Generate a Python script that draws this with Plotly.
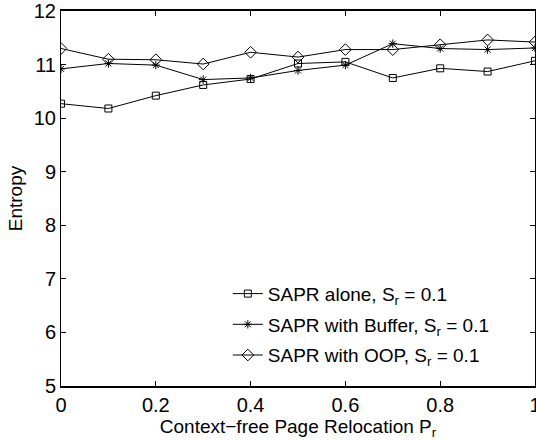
import plotly.graph_objects as go

x_vals = [0, 0.1, 0.2, 0.3, 0.4, 0.5, 0.6, 0.7, 0.8, 0.9, 1.0]
sapr_alone = [10.27, 10.18, 10.42, 10.62, 10.73, 11.02, 11.05, 10.75, 10.93, 10.87, 11.07]
sapr_buffer = [10.92, 11.02, 10.99, 10.72, 10.75, 10.89, 10.99, 11.39, 11.30, 11.28, 11.31]
sapr_oop = [11.30, 11.10, 11.09, 11.01, 11.23, 11.14, 11.28, 11.28, 11.37, 11.46, 11.42]
names = ["SAPR alone, S<sub>r</sub> = 0.1",
         "SAPR with Buffer, S<sub>r</sub> = 0.1",
         "SAPR with OOP, S<sub>r</sub> = 0.1"]
symbols = ["square-open", "asterisk-open", "diamond-open"]
sizes = [7, 7, 9]

fig = go.Figure()
for i, (ys, nm, sym, sz) in enumerate(zip([sapr_alone, sapr_buffer, sapr_oop], names, symbols, sizes)):
    fig.add_trace(go.Scatter(
        x=x_vals, y=ys, name=nm, mode="lines+markers", legendgroup=f"g{i}",
        line=dict(color="black", width=1),
        marker=dict(symbol=sym, size=sz, color="black", line=dict(color="black", width=1)),
    ))

font = "Liberation Sans, Arial, sans-serif"
fig.update_layout(
    width=536, height=440,
    margin=dict(l=61, r=1, t=11, b=54),
    paper_bgcolor="white", plot_bgcolor="white",
    font=dict(family=font, size=20, color="black"),
    showlegend=True,
    legend=dict(x=0.352, y=0.03, xanchor="left", yanchor="bottom",
                bgcolor="rgba(0,0,0,0)", borderwidth=0,
                font=dict(size=19), itemwidth=30, tracegroupgap=3),
    xaxis=dict(range=[0, 1], tickvals=[0, 0.2, 0.4, 0.6, 0.8, 1.0],
               ticktext=["0", "0.2", "0.4", "0.6", "0.8", "1"],
               ticks="inside", ticklen=5, tickcolor="black", ticklabeloverflow="allow",
               automargin=False,
               showline=True, linecolor="black", linewidth=1.5, mirror="ticks",
               showgrid=False, zeroline=False,
               title=dict(text="Context\u2212free Page Relocation P<sub>r</sub>", standoff=0,
                          font=dict(size=19))),
    yaxis=dict(range=[5, 12], tickvals=[5, 6, 7, 8, 9, 10, 11, 12],
               ticks="inside", ticklen=5, tickcolor="black", ticklabeloverflow="allow",
               automargin=False,
               showline=True, linecolor="black", linewidth=1, mirror="ticks",
               showgrid=False, zeroline=False,
               title=dict(text="Entropy", standoff=6, font=dict(size=19))),
)
fig.write_html("out.html")
